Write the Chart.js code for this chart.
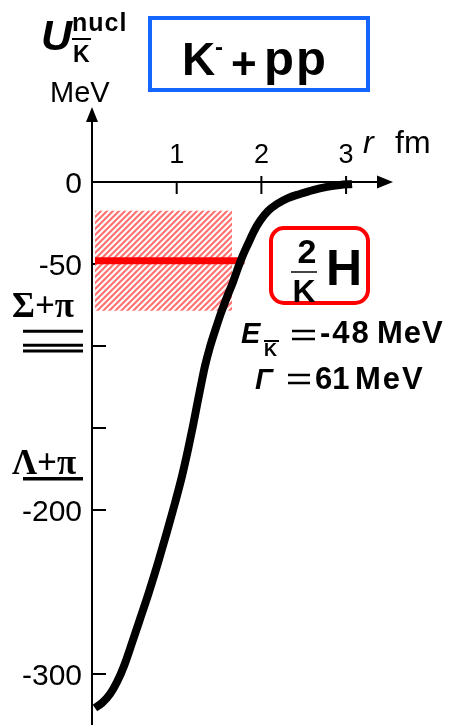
<!DOCTYPE html>
<html>
<head>
<meta charset="utf-8">
<script src="https://cdn.jsdelivr.net/npm/chart.js@4"></script>
<style>
    body { margin: 0; background: #fff; }
    canvas { display: block; }
</style>
</head>
<body>
<canvas id="potential" width="452" height="725"></canvas>
<script>
// K-pp potential U(r) in MeV, r in fm
let rValues = [0.035, 0.118, 0.213, 0.295, 0.378, 0.472, 0.567, 0.673, 0.779, 0.885, 0.980, 1.063, 1.133, 1.192, 1.240, 1.287,
    1.334, 1.393, 1.452, 1.523, 1.594, 1.665, 1.724, 1.783, 1.842, 1.913, 1.983, 2.078, 2.184, 2.314, 2.456, 2.609, 2.774, 2.928, 3.070];
let uValues = [-320.7, -317.7, -312.2, -304.9, -295.1, -281.1, -266.5, -250.0, -232.3, -213.4, -195.7, -179.3, -163.4, -148.8, -136.0, -123.8,
    -112.2, -100.6, -90.9, -79.9, -70.1, -61.0, -52.4, -44.5, -37.8, -29.9, -23.8, -17.7, -13.4, -9.8, -7.3, -4.9, -3.0, -1.8, -1.2];

// bound state
let bindingEnergy = -48;
let width = 61;
let levelRange = [0.035, 1.80];
let bandRange = [0.035, 1.653];

let xTicks = [1, 2, 3];
let yTicks = [-50, -100, -150, -200, -300];
let yTickLabels = [0, -50, -200, -300];
// thresholds on the energy axis
let sigmaPiLines = [-91, -99.5, -103];
let lambdaPiLine = -181;

const SANS = '"Liberation Sans", Arial, sans-serif';
const SERIF = '"Liberation Serif", "Times New Roman", serif';

function hatch() {
    let c = document.createElement('canvas');
    c.width = 6;
    c.height = 6;
    let g = c.getContext('2d');
    g.fillStyle = '#fff';
    g.fillRect(0, 0, 6, 6);
    g.strokeStyle = 'rgba(255, 80, 80, 0.8)';
    g.lineWidth = 2.2;
    g.beginPath();
    g.moveTo(-1, 7); g.lineTo(7, -1);
    g.moveTo(-4, 4); g.lineTo(4, -4);
    g.moveTo(2, 10); g.lineTo(10, 2);
    g.stroke();
    return g.createPattern(c, 'repeat');
}

function text(ctx, str, x, y, font, align, spacing) {
    ctx.font = font;
    ctx.textAlign = align || 'left';
    ctx.letterSpacing = (spacing || 0) + 'px';
    ctx.fillText(str, x, y);
    ctx.letterSpacing = '0px';
}

function line(ctx, x1, y1, x2, y2, w) {
    ctx.lineWidth = w;
    ctx.beginPath();
    ctx.moveTo(x1, y1);
    ctx.lineTo(x2, y2);
    ctx.stroke();
}

let axesPlugin = {
    id: 'axes',
    beforeDatasetsDraw: function (chart) {
        let ctx = chart.ctx;
        let xs = chart.scales.x;
        let ys = chart.scales.y;
        let x0 = xs.getPixelForValue(0);
        let y0 = ys.getPixelForValue(0);
        let area = chart.chartArea;
        ctx.save();
        ctx.strokeStyle = '#000';
        ctx.fillStyle = '#000';
        ctx.lineCap = 'butt';
        // vertical axis with arrow
        line(ctx, x0, area.bottom, x0, area.top + 12, 2);
        ctx.beginPath();
        ctx.moveTo(x0, area.top);
        ctx.lineTo(x0 - 6, area.top + 15);
        ctx.lineTo(x0 + 6, area.top + 15);
        ctx.closePath();
        ctx.fill();
        // horizontal axis with arrow
        line(ctx, x0, y0, area.right - 12, y0, 2.2);
        ctx.beginPath();
        ctx.moveTo(area.right, y0);
        ctx.lineTo(area.right - 16, y0 - 6.5);
        ctx.lineTo(area.right - 16, y0 + 6.5);
        ctx.closePath();
        ctx.fill();

        for (let t of yTicks) {
            let y = ys.getPixelForValue(t);
            line(ctx, x0, y, x0 + 14, y, 2);
        }
        for (let t of xTicks) {
            let x = xs.getPixelForValue(t);
            line(ctx, x, t === 1 ? y0 : y0 - 6, x, y0 + 12, 2);
        }
        ctx.restore();
    },
    afterDraw: function (chart) {
        let ctx = chart.ctx;
        let xs = chart.scales.x;
        let ys = chart.scales.y;
        ctx.save();
        ctx.fillStyle = '#000';
        ctx.strokeStyle = '#000';
        ctx.textBaseline = 'alphabetic';

        // tick labels
        for (let t of xTicks) {
            text(ctx, String(t), xs.getPixelForValue(t), 163, '27px ' + SANS, 'center');
        }
        ctx.textBaseline = 'middle';
        for (let t of yTickLabels) {
            text(ctx, String(t), 82, ys.getPixelForValue(t) + 3, '30px ' + SANS, 'right');
        }
        ctx.textBaseline = 'alphabetic';
        text(ctx, 'r', 363, 153, 'italic 32px ' + SANS);
        text(ctx, 'fm', 395, 153, '32px ' + SANS);

        // axis title
        text(ctx, 'U', 41, 50, 'italic bold 43px ' + SANS);
        text(ctx, 'nucl', 72, 31, 'bold 25px ' + SANS, 'left', 1);
        text(ctx, 'K', 73, 62, 'bold 23px ' + SANS);
        line(ctx, 72, 39, 91, 39, 2);
        text(ctx, 'MeV', 50, 102, '29px ' + SANS);

        // thresholds
        text(ctx, 'Σ+π', 12, 317, 'bold 35px ' + SERIF);
        for (let v of sigmaPiLines) {
            let y = ys.getPixelForValue(v);
            line(ctx, 23, y, 83, y, 3);
        }
        text(ctx, 'Λ+π', 12, 474, 'bold 35px ' + SERIF);
        let ly = ys.getPixelForValue(lambdaPiLine);
        line(ctx, 23, ly, 83, ly, 3.5);

        // reaction box
        ctx.strokeStyle = '#1466ff';
        ctx.lineWidth = 4;
        ctx.strokeRect(150, 18, 218, 72);
        ctx.strokeStyle = '#000';
        text(ctx, 'K', 182, 75, 'bold 46px ' + SANS);
        text(ctx, '-', 215, 55, 'bold 24px ' + SANS);
        text(ctx, '+', 231, 79, 'bold 44px ' + SANS);
        text(ctx, 'pp', 264, 75, 'bold 49px ' + SANS, 'left', 2);

        // kaonic nucleus box
        ctx.strokeStyle = '#ff0000';
        ctx.lineWidth = 4;
        ctx.beginPath();
        ctx.roundRect(271, 228, 97, 75, 13);
        ctx.stroke();
        ctx.strokeStyle = '#000';
        text(ctx, '2', 307, 263, 'bold 34px ' + SANS, 'center');
        ctx.strokeStyle = '#444';
        line(ctx, 291, 272, 317, 272, 2);
        ctx.strokeStyle = '#000';
        text(ctx, 'K', 304, 302, 'bold 32px ' + SANS, 'center');
        text(ctx, 'H', 326, 285, 'bold 50px ' + SANS);

        // energy and width
        text(ctx, 'E', 241, 343, 'italic bold 29px ' + SANS);
        text(ctx, 'K', 264, 356, 'bold 18px ' + SANS);
        line(ctx, 264, 341, 279, 341, 2);
        line(ctx, 292, 331, 315, 331, 2.5);
        line(ctx, 292, 339, 315, 339, 2.5);
        text(ctx, String(bindingEnergy), 320, 343, 'bold 31px ' + SANS, 'left', 2);
        text(ctx, 'MeV', 377, 343, 'bold 31px ' + SANS, 'left', 1);

        text(ctx, 'Γ', 255, 389, 'italic bold 29px ' + SANS);
        line(ctx, 288, 375, 310, 375, 2.5);
        line(ctx, 288, 383, 310, 383, 2.5);
        text(ctx, String(width), 315, 389, 'bold 31px ' + SANS);
        text(ctx, 'MeV', 355, 389, 'bold 31px ' + SANS, 'left', 2);
        ctx.restore();
    }
};

let curve = rValues.map(function (r, i) {
    return { x: r, y: uValues[i] };
});
let level = levelRange.map(function (r) {
    return { x: r, y: bindingEnergy };
});
let bandTop = bandRange.map(function (r) {
    return { x: r, y: bindingEnergy + width / 2 };
});
let bandBottom = bandRange.map(function (r) {
    return { x: r, y: bindingEnergy - width / 2 };
});

new Chart(document.getElementById('potential').getContext('2d'), {
    type: 'line',
    data: {
        datasets: [{
            data: curve,
            borderColor: '#000',
            borderWidth: 8,
            borderCapStyle: 'butt',
            pointRadius: 0,
            cubicInterpolationMode: 'monotone',
            fill: false
        }, {
            data: level,
            borderColor: '#ff0000',
            borderWidth: 7,
            borderCapStyle: 'butt',
            pointRadius: 0,
            fill: false
        }, {
            data: bandTop,
            borderWidth: 0,
            borderColor: 'rgba(0,0,0,0)',
            pointRadius: 0,
            fill: false
        }, {
            data: bandBottom,
            borderWidth: 0,
            borderColor: 'rgba(0,0,0,0)',
            backgroundColor: hatch(),
            pointRadius: 0,
            fill: '-1'
        }]
    },
    options: {
        responsive: false,
        animation: false,
        devicePixelRatio: 1,
        layout: { padding: { left: 92, top: 107, right: 59, bottom: 0 } },
        plugins: {
            legend: { display: false },
            tooltip: { enabled: false }
        },
        scales: {
            x: { type: 'linear', display: false, min: 0, max: 3.554 },
            y: { type: 'linear', display: false, min: -331.1, max: 45.73 }
        }
    },
    plugins: [axesPlugin]
});
</script>
</body>
</html>
